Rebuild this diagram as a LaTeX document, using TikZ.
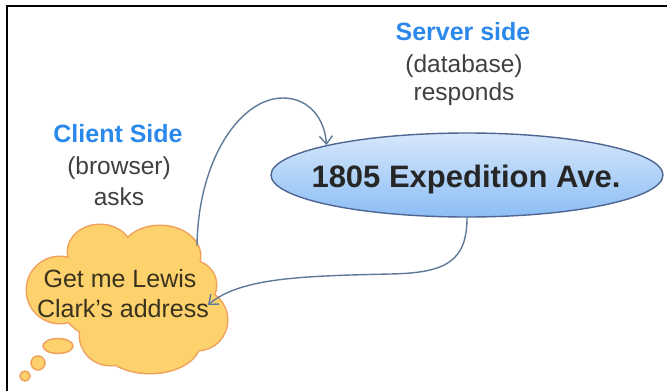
\documentclass[tikz,border=0pt]{standalone}
\usepackage{fontspec}
\setmainfont{Liberation Sans}
\usetikzlibrary{arrows.meta,shapes.geometric}

\definecolor{headblue}{RGB}{43,137,236}
\definecolor{labelgray}{RGB}{64,64,64}
\definecolor{cloudfill}{RGB}{253,209,108}
\definecolor{cloudedge}{RGB}{240,162,92}
\definecolor{cloudtext}{RGB}{56,50,30}
\definecolor{ovaltop}{RGB}{214,231,251}
\definecolor{ovalbot}{RGB}{140,190,245}
\definecolor{ovaledge}{RGB}{78,102,145}
\definecolor{linkcol}{RGB}{95,122,152}

\tikzset{
  heading/.style={anchor=base, inner sep=0pt, text=headblue,
    font=\fontsize{25}{30}\selectfont\bfseries},
  sublabel/.style={anchor=base, inner sep=0pt, text=labelgray,
    font=\fontsize{24.5}{30}\selectfont},
  thought/.style={anchor=base, inner sep=0pt, text=cloudtext,
    font=\fontsize{25}{30}\selectfont},
  oval/.style={ellipse, draw=ovaledge, line width=1.4pt,
    top color=ovaltop, bottom color=ovalbot,
    minimum width=392pt, minimum height=84pt, inner sep=0pt},
  ovaltext/.style={anchor=base, inner sep=0pt, text=black!85,
    font=\fontsize{31}{36}\selectfont\bfseries},
  link/.style={draw=linkcol, line width=1.4pt,
    -{Straight Barb[length=8pt,width=13pt]}},
  puffedge/.style={draw=cloudedge, line width=3pt},
  pufffill/.style={fill=cloudfill}
}

\begin{document}
\begin{tikzpicture}[x=1pt,y=-1pt]
\useasboundingbox (0,0) rectangle (667,391);
\fill[white] (0,0) rectangle (667,391);

% frame lines along the top and left edges
\draw[line width=2pt] (667,6) -- (7,6) -- (7,391);

% thought cloud: union of lobes, outline drawn first and covered by the fill
\def\lobes{60/290/33/33, 100/252/32/27, 160/256/40/30, 192/285/24/24,
           198/320/29/30, 150/342/50/31, 110/335/30/30, 130/300/70/45}
\foreach \cx/\cy/\rx/\ry in \lobes
  \path[puffedge] (\cx,\cy) ellipse [x radius=\rx, y radius=\ry];
\foreach \cx/\cy/\rx/\ry in \lobes
  \path[pufffill] (\cx,\cy) ellipse [x radius=\rx, y radius=\ry];

% trailing bubbles
\path[draw=cloudedge, line width=1.5pt, fill=cloudfill]
  (58,346) ellipse [x radius=15, y radius=7.5];
\path[draw=cloudedge, line width=1.5pt, fill=cloudfill]
  (38,363) circle [radius=7];
\path[draw=cloudedge, line width=1.5pt, fill=cloudfill]
  (25,376) circle [radius=5];

% cloud text
\node[thought] (askA) at (120,287) {Get me Lewis};
\node[thought] (askB) at (123,317) {Clark's address};

% server oval and its text
\node[oval] (srv) at (467,175) {};
\node[ovaltext] (srvtext) at (466,187) {1805 Expedition Ave.};

% labels
\node[heading]  (srvtitle) at (463,40)  {Server side};
\node[sublabel] (srvpart)  at (464,72)  {(database)};
\node[sublabel] (srvverb)  at (464,100) {responds};

\node[heading]  (clititle) at (118,142) {Client Side};
\node[sublabel] (clipart)  at (119,174) {(browser)};
\node[sublabel] (cliverb)  at (119,205) {asks};

% attachment points on the cloud
\coordinate (cloudT) at (197,246);
\coordinate (cloudR) at (208,305);

% request: client to server
\draw[link] (cloudT) .. controls (198,160) and (240,98) .. (283,98)
            .. controls (310,98) and (325,120) .. (srv.168);

% response: server to client
\draw[link] (srv.south) .. controls (467,262) and (445,273) .. (390,274)
            .. controls (300,276) and (240,278) .. (cloudR);
\end{tikzpicture}
\end{document}
